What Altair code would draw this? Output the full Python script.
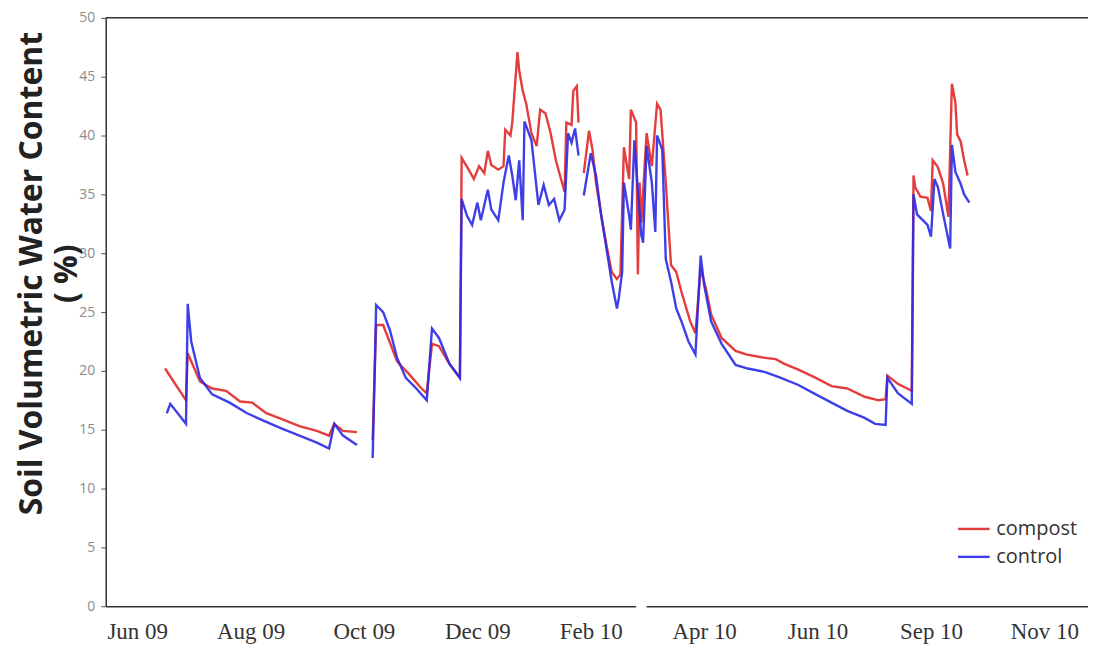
import altair as alt
import pandas as pd

# ---------------- data ----------------
compost_dates = [
    "2009-06-21", "2009-07-03", "2009-07-04", "2009-07-11", "2009-07-18", "2009-07-26",
    "2009-08-03", "2009-08-10", "2009-08-18", "2009-08-27", "2009-09-06", "2009-09-16",
    "2009-09-23", "2009-09-26", "2009-10-01", "2009-10-09",
    "2009-10-18", "2009-10-20", "2009-10-24", "2009-11-01", "2009-11-08", "2009-11-15",
    "2009-11-18", "2009-11-21", "2009-11-25", "2009-12-01", "2009-12-07", "2009-12-08",
    "2009-12-12", "2009-12-15", "2009-12-18", "2009-12-21", "2009-12-23", "2009-12-25",
    "2009-12-29", "2010-01-01", "2010-01-02", "2010-01-05", "2010-01-06", "2010-01-09",
    "2010-01-10", "2010-01-12", "2010-01-14", "2010-01-17", "2010-01-20", "2010-01-22",
    "2010-01-25", "2010-01-28", "2010-01-31", "2010-02-05", "2010-02-06", "2010-02-09",
    "2010-02-10", "2010-02-12", "2010-02-13",
    "2010-02-16", "2010-02-19", "2010-02-21", "2010-02-23", "2010-02-26", "2010-03-01",
    "2010-03-04", "2010-03-07", "2010-03-09", "2010-03-11", "2010-03-14", "2010-03-15",
    "2010-03-18", "2010-03-19", "2010-03-20", "2010-03-21", "2010-03-24", "2010-03-27",
    "2010-03-30", "2010-04-01", "2010-04-04", "2010-04-07", "2010-04-10", "2010-04-13",
    "2010-04-18", "2010-04-21", "2010-04-24", "2010-04-27", "2010-04-30", "2010-05-06",
    "2010-05-14", "2010-05-20", "2010-05-31", "2010-06-06", "2010-06-11", "2010-06-19",
    "2010-06-29", "2010-07-08", "2010-07-17", "2010-07-27", "2010-08-04", "2010-08-08",
    "2010-08-09", "2010-08-15", "2010-08-23", "2010-08-24", "2010-08-25", "2010-08-28",
    "2010-09-01", "2010-09-03", "2010-09-04", "2010-09-07", "2010-09-10", "2010-09-13",
    "2010-09-15", "2010-09-17", "2010-09-18", "2010-09-20", "2010-09-22", "2010-09-24",
]
compost_values = [
    20.2, 17.5, 21.5, 19.1, 18.5, 18.3,
    17.4, 17.3, 16.4, 15.9, 15.3, 14.9,
    14.5, 15.5, 14.9, 14.8,
    14.1, 23.9, 23.9, 20.8, 19.7, 18.5,
    18.1, 22.3, 22.1, 20.6, 19.4, 38.1,
    37.1, 36.3, 37.4, 36.8, 38.7, 37.5,
    37.1, 37.4, 40.5, 40.0, 41.1, 47.1,
    45.5, 43.8, 42.7, 40.2, 39.1, 42.2,
    41.9, 40.2, 37.9, 35.2, 41.1, 40.9,
    43.8, 44.2, 41.1,
    36.8, 40.4, 38.8, 36.0, 33.2, 30.7,
    28.4, 27.8, 28.2, 39.0, 36.3, 42.2,
    41.1, 28.2, 36.0, 32.6, 40.2, 37.4,
    42.7, 42.2, 36.0, 29.0, 28.4, 26.7,
    24.2, 23.2, 28.7, 27.0, 24.8, 22.8,
    21.7, 21.4, 21.1, 21.0, 20.6, 20.1,
    19.4, 18.7, 18.5, 17.8, 17.5, 17.6,
    19.6, 18.9, 18.3, 36.6, 35.6, 34.8,
    34.7, 33.6, 37.9, 37.3, 35.9, 33.1,
    44.4, 42.8, 40.1, 39.5, 37.9, 36.6,
]
compost_segments = [1] * 16 + [2] * 39 + [3] * 60

control_dates = [
    "2009-06-22", "2009-06-24", "2009-07-03", "2009-07-04", "2009-07-06", "2009-07-11",
    "2009-07-18", "2009-07-28", "2009-08-07", "2009-08-16", "2009-08-27", "2009-09-06",
    "2009-09-16", "2009-09-23", "2009-09-26", "2009-10-01", "2009-10-09",
    "2009-10-18", "2009-10-20", "2009-10-24", "2009-10-28", "2009-11-01", "2009-11-06",
    "2009-11-12", "2009-11-18", "2009-11-21", "2009-11-25", "2009-12-01", "2009-12-07",
    "2009-12-08", "2009-12-11", "2009-12-14", "2009-12-17", "2009-12-19", "2009-12-23",
    "2009-12-25", "2009-12-29", "2010-01-01", "2010-01-04", "2010-01-06", "2010-01-08",
    "2010-01-10", "2010-01-12", "2010-01-13", "2010-01-17", "2010-01-21", "2010-01-24",
    "2010-01-27", "2010-01-30", "2010-02-02", "2010-02-05", "2010-02-07", "2010-02-09",
    "2010-02-11", "2010-02-13",
    "2010-02-16", "2010-02-20", "2010-02-23", "2010-02-26", "2010-03-01", "2010-03-04",
    "2010-03-07", "2010-03-08", "2010-03-10", "2010-03-11", "2010-03-14", "2010-03-15",
    "2010-03-17", "2010-03-18", "2010-03-21", "2010-03-22", "2010-03-24", "2010-03-27",
    "2010-03-29", "2010-03-30", "2010-04-02", "2010-04-04", "2010-04-07", "2010-04-10",
    "2010-04-13", "2010-04-17", "2010-04-21", "2010-04-24", "2010-04-26", "2010-04-30",
    "2010-05-06", "2010-05-14", "2010-05-21", "2010-05-31", "2010-06-09", "2010-06-19",
    "2010-06-29", "2010-07-08", "2010-07-17", "2010-07-27", "2010-08-02", "2010-08-08",
    "2010-08-09", "2010-08-15", "2010-08-23", "2010-08-24", "2010-08-26", "2010-08-28",
    "2010-09-01", "2010-09-03", "2010-09-05", "2010-09-07", "2010-09-10", "2010-09-14",
    "2010-09-15", "2010-09-17", "2010-09-20", "2010-09-22", "2010-09-25",
]
control_values = [
    16.4, 17.2, 15.5, 25.7, 22.5, 19.4,
    18.0, 17.3, 16.4, 15.8, 15.1, 14.5,
    13.9, 13.4, 15.5, 14.5, 13.7,
    12.6, 25.6, 25.0, 23.4, 21.1, 19.4,
    18.5, 17.5, 23.6, 22.8, 20.6, 19.4,
    34.6, 33.2, 32.4, 34.3, 32.8, 35.4,
    33.7, 32.8, 36.0, 38.3, 36.6, 34.5,
    37.9, 32.8, 41.2, 39.6, 34.1, 35.8,
    34.1, 34.6, 32.8, 33.7, 40.2, 39.4,
    40.6, 38.3,
    34.9, 38.5, 36.6, 33.2, 30.4, 27.6,
    25.3, 26.1, 28.4, 36.0, 33.2, 32.0,
    39.6, 37.4, 31.5, 30.9, 39.1, 36.0,
    31.8, 40.0, 38.8, 29.5, 27.6, 25.3,
    24.2, 22.5, 21.4, 29.8, 27.3, 24.2,
    22.3, 20.5, 20.2, 19.9, 19.4, 18.8,
    18.0, 17.3, 16.6, 16.0, 15.5, 15.4,
    19.4, 18.1, 17.2, 35.0, 33.3, 33.0,
    32.4, 31.4, 36.3, 35.6, 33.3, 30.4,
    39.2, 36.9, 35.9, 35.0, 34.3,
]
control_segments = [1] * 17 + [2] * 38 + [3] * 59

series_names = ["compost", "control"]
series_colors = ["#e02828", "#2a2ae6"]

tick_dates = ["2009-06-05", "2009-08-09", "2009-10-13", "2009-12-17", "2010-02-20",
              "2010-04-26", "2010-06-30", "2010-09-03", "2010-11-07"]
x_domain = ["2009-05-18", "2010-12-02"]
axis_break = ["2010-03-18", "2010-03-24"]   # small break visible in the x-axis line
y_ticks = [0, 5, 10, 15, 20, 25, 30, 35, 40, 45, 50]
y_title = ["Soil Volumetric Water Content", "( %)"]

# ---------------- build table ----------------
df = pd.concat([
    pd.DataFrame({"date": compost_dates, "value": compost_values,
                  "segment": compost_segments, "series": "compost"}),
    pd.DataFrame({"date": control_dates, "value": control_values,
                  "segment": control_segments, "series": "control"}),
], ignore_index=True)


def dt(s):
    y, m, d = (int(p) for p in s.split("-"))
    return alt.DateTime(year=y, month=m, date=d, utc=True)


x_scale = alt.Scale(type="utc", domain=[dt(v) for v in x_domain])
y_scale = alt.Scale(domain=[0, 50], nice=False)

x_enc = alt.X(
    "date:T",
    scale=x_scale,
    axis=alt.Axis(
        values=[dt(v) for v in tick_dates],
        labelExpr="utcFormat(datum.value, '%b %y')",
        ticks=False, grid=False, domainColor="#333333", domainWidth=1.5,
        labelFont="Liberation Serif", labelFontSize=23, labelColor="#333333",
        labelPadding=14, labelFlush=False, labelOverlap=False,
    ),
    title=None,
)
y_enc = alt.Y(
    "value:Q",
    scale=y_scale,
    axis=alt.Axis(
        values=y_ticks, grid=False, domainColor="#333333", domainWidth=1.5,
        tickColor="#555555", tickSize=5, labelFont="Open Sans", labelFontSize=14,
        labelColor="#8c8c8c", labelPadding=6,
        titleFont="Open Sans", titleFontSize=32, titleFontWeight="bold",
        titleColor="#222222", titleAngle=270, titleX=-89, titleY=256,
        titleBaseline="top", titleAlign="center", titleLineHeight=35,
    ),
    title=y_title,
)

lines = alt.Chart(df).mark_line(strokeWidth=2.4, opacity=0.9).encode(
    x=x_enc,
    y=y_enc,
    color=alt.Color(
        "series:N",
        scale=alt.Scale(domain=series_names, range=series_colors),
        legend=alt.Legend(
            orient="none", legendX=853, legendY=495, title=None,
            symbolType="stroke", symbolStrokeWidth=2.4, symbolSize=1000,
            labelFont="Open Sans", labelFontSize=20, labelColor="#333333",
            rowPadding=0, labelOffset=5,
        ),
    ),
    detail="segment:N",
)

top_rule = alt.Chart(pd.DataFrame({"v": [50]})).mark_rule(
    color="#333333", strokeWidth=1.5
).encode(y=alt.Y("v:Q"))

gap = alt.Chart(pd.DataFrame({"a": [axis_break[0]], "b": [axis_break[1]], "v": [0]})).mark_rule(
    color="white", strokeWidth=4
).encode(x=alt.X("a:T"), x2="b:T", y=alt.Y("v:Q"))

chart = alt.layer(lines, top_rule, gap).properties(
    width=985, height=590,
    padding={"left": 98, "top": 9, "right": 0, "bottom": 41},
    autosize=alt.AutoSizeParams(type="none"),
).configure_view(stroke=None)

chart.save("out.html", embed_options={"renderer": "svg", "actions": False})
